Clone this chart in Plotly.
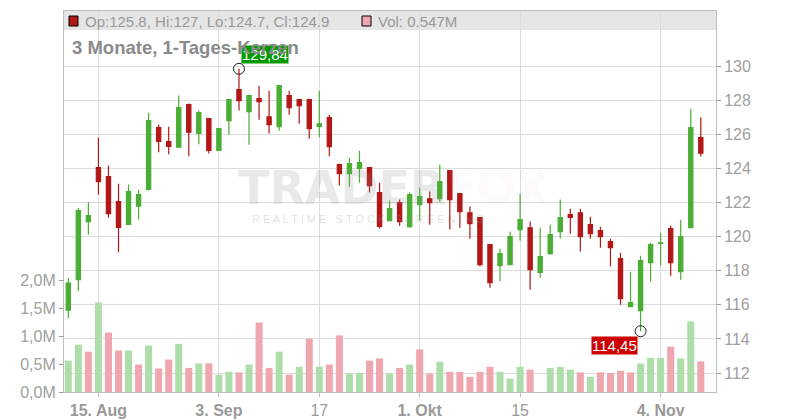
import plotly.graph_objects as go

# ---------------- data ----------------
dates = [
    "2019-08-12", "2019-08-13", "2019-08-14", "2019-08-15", "2019-08-16",
    "2019-08-19", "2019-08-20", "2019-08-21", "2019-08-22", "2019-08-23",
    "2019-08-26", "2019-08-27", "2019-08-28", "2019-08-29", "2019-08-30",
    "2019-09-03", "2019-09-04", "2019-09-05", "2019-09-06",
    "2019-09-09", "2019-09-10", "2019-09-11", "2019-09-12", "2019-09-13",
    "2019-09-16", "2019-09-17", "2019-09-18", "2019-09-19", "2019-09-20",
    "2019-09-23", "2019-09-24", "2019-09-25", "2019-09-26", "2019-09-27",
    "2019-09-30", "2019-10-01", "2019-10-02", "2019-10-03", "2019-10-04",
    "2019-10-07", "2019-10-08", "2019-10-09", "2019-10-10", "2019-10-11",
    "2019-10-14", "2019-10-15", "2019-10-16", "2019-10-17", "2019-10-18",
    "2019-10-21", "2019-10-22", "2019-10-23", "2019-10-24", "2019-10-25",
    "2019-10-28", "2019-10-29", "2019-10-30", "2019-10-31", "2019-11-01",
    "2019-11-04", "2019-11-05", "2019-11-06", "2019-11-07", "2019-11-08",
]
opens = [115.68, 117.47, 120.88, 124.04, 123.52, 122.05, 120.72, 121.78, 122.77, 126.39,
         125.57, 125.24, 127.74, 126.06, 126.92, 125.06, 126.80, 128.62, 127.33, 128.09,
         127.03, 126.45, 128.27, 128.03, 128.03, 126.47, 126.98, 124.22, 123.69, 123.98,
         124.04, 122.58, 120.93, 121.99, 120.58, 121.87, 122.22, 122.22, 123.87, 122.52,
         121.40, 121.11, 119.53, 118.30, 118.35, 120.41, 120.52, 117.90, 119.00, 120.29,
         121.29, 121.40, 120.70, 120.35, 119.70, 118.71, 115.89, 115.66, 118.47, 119.60,
         120.47, 117.94, 120.52, 125.80]
highs = [117.57, 121.68, 122.03, 125.80, 124.16, 123.10, 123.05, 122.75, 127.27, 126.57,
         126.45, 128.27, 127.80, 127.39, 126.95, 126.39, 128.05, 129.84, 128.32, 128.85,
         128.56, 128.91, 128.56, 128.09, 128.05, 128.56, 127.15, 124.28, 124.63, 125.04,
         124.06, 123.16, 122.11, 122.17, 122.58, 122.87, 122.64, 124.22, 123.90, 122.54,
         121.76, 121.13, 119.55, 119.29, 120.29, 122.52, 120.88, 120.52, 120.70, 122.17,
         121.64, 121.64, 121.17, 120.58, 119.88, 119.06, 117.94, 118.88, 119.64, 120.23,
         120.64, 120.99, 127.50, 127.00]
lows = [115.23, 116.79, 120.13, 122.46, 121.11, 119.08, 120.68, 121.01, 122.71, 124.94,
        124.83, 125.22, 124.71, 125.41, 124.88, 125.04, 125.98, 127.39, 125.39, 126.86,
        126.04, 126.21, 127.15, 126.62, 125.74, 125.82, 124.71, 122.99, 122.93, 123.16,
        122.58, 120.47, 120.88, 120.64, 120.52, 120.93, 120.70, 122.05, 120.41, 120.52,
        119.88, 118.24, 117.00, 117.36, 118.33, 119.76, 116.89, 117.59, 118.94, 119.88,
        120.17, 119.12, 119.88, 119.35, 118.24, 116.00, 115.87, 114.45, 117.36, 118.30,
        117.71, 117.47, 120.50, 124.70]
closes = [117.28, 121.52, 121.23, 123.22, 121.35, 120.54, 122.64, 122.46, 126.80, 125.59,
          125.29, 127.56, 126.12, 127.27, 125.06, 126.33, 128.03, 127.97, 128.27, 127.91,
          126.57, 128.85, 127.56, 127.68, 126.33, 126.62, 125.27, 123.69, 124.28, 124.34,
          122.99, 120.60, 121.64, 120.88, 122.46, 122.34, 121.99, 123.22, 122.17, 121.46,
          120.76, 118.35, 117.30, 119.00, 120.00, 120.99, 118.06, 118.82, 120.11, 121.11,
          121.13, 120.00, 120.17, 120.00, 119.35, 116.36, 116.13, 118.59, 119.53, 119.64,
          118.47, 120.00, 126.39, 124.90]
volumes_m = [0.56, 0.845, 0.72, 1.60, 1.06, 0.74, 0.74, 0.49, 0.83, 0.42,
             0.58, 0.86, 0.43, 0.51, 0.51, 0.31, 0.36, 0.35, 0.49, 1.24,
             0.43, 0.72, 0.31, 0.45, 0.95, 0.45, 0.49, 1.01, 0.33, 0.34,
             0.56, 0.60, 0.33, 0.43, 0.49, 0.76, 0.33, 0.54, 0.36, 0.36,
             0.27, 0.36, 0.45, 0.36, 0.24, 0.45, 0.40, 0.0, 0.43, 0.45,
             0.40, 0.35, 0.27, 0.35, 0.34, 0.38, 0.35, 0.51, 0.61, 0.61,
             0.81, 0.60, 1.26, 0.547]

tick_dates = ["2019-08-15", "2019-09-03", "2019-09-17", "2019-10-01", "2019-10-15", "2019-11-04"]
tick_labels = ["<b>15. Aug</b>", "<b>3. Sep</b>", "17", "<b>1. Okt</b>", "15", "<b>4. Nov</b>"]
price_ticks = [112, 114, 116, 118, 120, 122, 124, 126, 128, 130]
vol_ticks = [0, 0.5, 1.0, 1.5, 2.0]
vol_tick_labels = ["0,0M", "0,5M", "1,0M", "1,5M", "2,0M"]
title_text = "3 Monate, 1-Tages-Kerzen"

# ---------------- styles ----------------
FONT = "Liberation Sans, Arial, sans-serif"
GREEN = "#4aae35"
RED = "#b31717"
VGREEN = "#addeaa"
VRED = "#f0a6ae"
GRID = "#dcdcdc"
AXLINE = "#bdbdbd"
TXT = "#a0a0a0"

# page offset of the plotly div (default body margin)
OFF = 8
W, H = 800 - OFF, 420 - OFF
# plot area in page pixels
PL, PT, PR, PB = 64, 11, 716, 392
L, T = PL - OFF, PT - OFF
R, B = (W + OFF) - PR, (H + OFF) - PB
PW, PH = PR - PL, PB - PT


def px_x(x):
    return (x - PL) / PW


def px_y(y):
    return (PB - y) / PH


vol_colors = [VGREEN]
for i in range(1, len(closes)):
    vol_colors.append(VGREEN if closes[i] >= closes[i - 1] else VRED)

fig = go.Figure()

fig.add_trace(go.Bar(
    x=dates, y=volumes_m, marker=dict(color=vol_colors, line=dict(width=0)),
    yaxis="y", hoverinfo="skip", showlegend=False,
))

fig.add_trace(go.Candlestick(
    x=dates, open=opens, high=highs, low=lows, close=closes,
    increasing=dict(line=dict(color=GREEN, width=1.2), fillcolor=GREEN),
    decreasing=dict(line=dict(color=RED, width=1.2), fillcolor=RED),
    whiskerwidth=0, yaxis="y2", showlegend=False, hoverinfo="skip",
))

hi_idx = max(range(len(highs)), key=lambda i: highs[i])
lo_idx = min(range(len(lows)), key=lambda i: lows[i])

fig.add_trace(go.Scatter(
    x=[dates[hi_idx], dates[lo_idx]], y=[highs[hi_idx], lows[lo_idx]],
    mode="markers", yaxis="y2",
    marker=dict(symbol="circle-open", size=11, color="#222", line=dict(width=1)),
    hoverinfo="skip", showlegend=False,
))


def fmt(v):
    return f"{v:.2f}".replace(".", ",")


annotations = [
    dict(x=dates[hi_idx], y=highs[hi_idx], xref="x", yref="y2", text=fmt(highs[hi_idx]),
         showarrow=False, xanchor="left", yanchor="bottom", xshift=2, yshift=5,
         bgcolor="#009900", borderpad=0, font=dict(family=FONT, size=15, color="white")),
    dict(x=dates[lo_idx], y=lows[lo_idx], xref="x", yref="y2", text=fmt(lows[lo_idx]),
         showarrow=False, xanchor="right", yanchor="top", xshift=-3, yshift=-5,
         bgcolor="#cc0000", borderpad=0, font=dict(family=FONT, size=15, color="white")),
    # watermark
    dict(x=px_x(236), y=px_y(188), xref="paper", yref="paper",
         text="<b>TRADER<span style='color:rgba(245,120,135,0.26)'>FOX</span></b>",
         showarrow=False, xanchor="left", yanchor="middle",
         font=dict(family="DejaVu Sans, sans-serif", size=46, color="rgba(140,140,140,0.2)")),
    dict(x=px_x(250), y=px_y(219), xref="paper", yref="paper",
         text="R E A L T I M E   S T O C K   S C R E E N I N G",
         showarrow=False, xanchor="left", yanchor="middle",
         font=dict(family=FONT, size=11, color="rgba(150,150,150,0.3)")),
    # header legend
    dict(x=px_x(83), y=px_y(21), xref="paper", yref="paper",
         text=f"Op:{opens[-1]:g}, Hi:{highs[-1]:g}, Lo:{lows[-1]:g}, Cl:{closes[-1]:g}",
         showarrow=False, xanchor="left", yanchor="middle",
         font=dict(family=FONT, size=15, color="#999999")),
    dict(x=px_x(376), y=px_y(21), xref="paper", yref="paper",
         text=f"Vol: {volumes_m[-1]:g}M",
         showarrow=False, xanchor="left", yanchor="middle",
         font=dict(family=FONT, size=15, color="#999999")),
    # title
    dict(x=px_x(70), y=px_y(47), xref="paper", yref="paper",
         text=f"<b>{title_text}</b>",
         showarrow=False, xanchor="left", yanchor="middle",
         font=dict(family=FONT, size=18.5, color="#8a8a8a")),
]

shapes = [
    dict(type="rect", xref="paper", yref="paper", x0=0, x1=1, y0=px_y(30), y1=1,
         fillcolor="#e5e5e5", line=dict(width=0), layer="below"),
    dict(type="rect", xref="paper", yref="paper", x0=px_x(69), x1=px_x(78),
         y0=px_y(26), y1=px_y(16), fillcolor=RED, line=dict(color="black", width=1)),
    dict(type="rect", xref="paper", yref="paper", x0=px_x(362), x1=px_x(371),
         y0=px_y(26), y1=px_y(16), fillcolor=VRED, line=dict(color="black", width=1)),
]

px_per = 10.04
first_px = 68.3
x_lo = -(first_px - PL) / px_per
x_hi = x_lo + PW / px_per

p_per = 17.05   # px per 1 price unit
price_lo = 112 - (PB - 373) / p_per
price_hi = price_lo + PH / p_per
v_per = 56.0    # px per 1M volume

fig.update_layout(
    width=W, height=H, autosize=False,
    margin=dict(l=L, r=R, t=T, b=B, autoexpand=False),
    paper_bgcolor="white", plot_bgcolor="white",
    showlegend=False, hovermode=False,
    boxgap=0.4, bargap=0.3,
    font=dict(family=FONT, color=TXT),
    xaxis=dict(
        type="category", range=[x_lo, x_hi],
        tickmode="array", tickvals=tick_dates, ticktext=tick_labels,
        showgrid=True, gridcolor=GRID, gridwidth=1,
        ticks="outside", ticklen=4, tickcolor=AXLINE,
        showline=True, linecolor=AXLINE, linewidth=1, mirror=True,
        tickfont=dict(family=FONT, size=16, color="#999999"),
        rangeslider=dict(visible=False), zeroline=False, fixedrange=True,
    ),
    yaxis=dict(
        range=[0, PH / v_per], side="left",
        tickmode="array", tickvals=vol_ticks, ticktext=vol_tick_labels,
        showgrid=False, zeroline=False,
        ticks="outside", ticklen=4, tickcolor="#999999",
        showline=True, linecolor=AXLINE, linewidth=1,
        tickfont=dict(family=FONT, size=16, color=TXT), fixedrange=True,
    ),
    yaxis2=dict(
        range=[price_lo, price_hi], side="right", overlaying="y",
        tickmode="array", tickvals=price_ticks,
        showgrid=True, gridcolor=GRID, gridwidth=1, zeroline=False,
        ticks="outside", ticklen=4, tickcolor="#999999",
        showline=True, linecolor=AXLINE, linewidth=1,
        tickfont=dict(family=FONT, size=16, color=TXT), fixedrange=True,
    ),
    annotations=annotations,
    shapes=shapes,
)

fig.write_html("out.html")
